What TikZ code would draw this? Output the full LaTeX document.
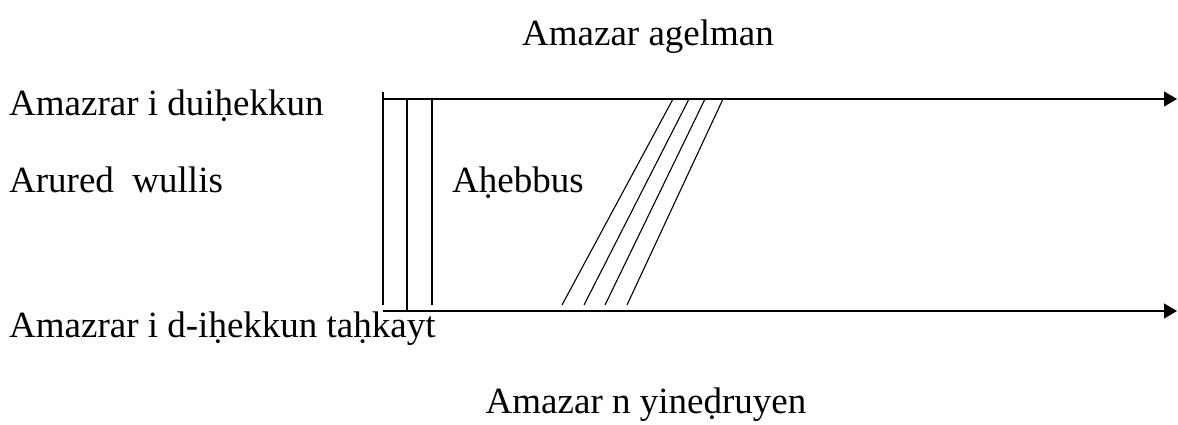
\documentclass[tikz,border=0pt]{standalone}
\usepackage{fontspec}
\setmainfont{Liberation Serif}
\usetikzlibrary{positioning,arrows.meta}
\tikzset{
	axis/.style={draw=black,line width=1.2pt,-{Triangle[length=13pt,width=15pt]}},
	bar/.style={draw=black,line width=1.2pt},
	slant/.style={draw=black,line width=1.1pt},
	lbl/.style={font=\fontsize{37}{42}\selectfont,inner sep=0pt},
}

\begin{document}
\begin{tikzpicture}[x=1pt,y=-1pt]
	\useasboundingbox (0,0) rectangle (1178,425);
	% time axes
	\coordinate (tl) at (383,99);
	\coordinate (tr) at (1177,99);
	\coordinate (bl) at (383,311);
	\coordinate (br) at (1177,311);
	\draw[axis] (tl)--(tr);
	\draw[axis] (bl)--(br);
	% vertical bars
	\coordinate (v1t) at (383,92);
	\coordinate (v1b) at (383,305);
	\coordinate (v2t) at (407,99);
	\coordinate (v2b) at (407,311);
	\coordinate (v3t) at (432,99);
	\coordinate (v3b) at (432,305);
	\draw[bar] (v1t)--(v1b);
	\draw[bar] (v2t)--(v2b);
	\draw[bar] (v3t)--(v3b);
	% slanted lines
	\coordinate (s1b) at (562,305);
	\coordinate (s1t) at (673,99);
	\coordinate (s2b) at (584,305);
	\coordinate (s2t) at (689,99);
	\coordinate (s3b) at (605,305);
	\coordinate (s3t) at (705,99);
	\coordinate (s4b) at (627,305);
	\coordinate (s4t) at (723,99);
	\draw[slant] (s1b)--(s1t);
	\draw[slant] (s2b)--(s2t);
	\draw[slant] (s3b)--(s3t);
	\draw[slant] (s4b)--(s4t);
	% labels
	\node[lbl,anchor=base] (top) at (648,46) {Amazar agelman};
	\node[lbl,anchor=base west] (up) at (9,116) {Amazrar i duiḥekkun};
	\node[lbl,anchor=base west] (mid) at (9,192) {Arured\ \ wullis};
	\node[lbl,anchor=base west] (heb) at (452,192) {Aḥebbus};
	\node[lbl,anchor=base west] (low) at (9,337) {Amazrar i d-iḥekkun taḥkayt};
	\node[lbl,anchor=base] (bot) at (646,413) {Amazar n yineḍruyen};
\end{tikzpicture}
\end{document}
